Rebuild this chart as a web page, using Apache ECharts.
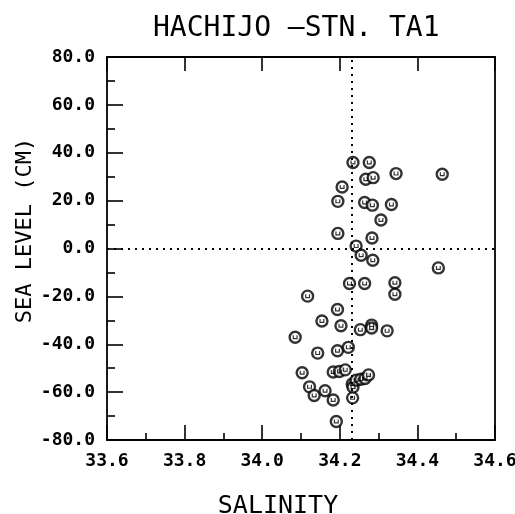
<!DOCTYPE html>
<html>
<head>
<meta charset="utf-8">
<script src="https://cdn.jsdelivr.net/npm/echarts@6/dist/echarts.min.js"></script>
<style>
  html, body { margin: 0; padding: 0; background: #fff; }
  #chart { width: 515px; height: 514px; }
</style>
</head>
<body>
<div id="chart"></div>
<script>
// salinity (x) and sea level anomaly in cm (y)
const salinity = [34.234, 34.276, 34.267, 34.286, 34.345, 34.464, 34.206, 34.195, 34.264, 34.284,
  34.333, 34.306, 34.195, 34.283, 34.242, 34.255, 34.285, 34.454, 34.225, 34.264,
  34.342, 34.342, 34.117, 34.194, 34.154, 34.203, 34.253, 34.282, 34.282, 34.322,
  34.085, 34.143, 34.194, 34.222, 34.103, 34.183, 34.199, 34.214, 34.232, 34.234,
  34.242, 34.254, 34.265, 34.274, 34.122, 34.134, 34.162, 34.183, 34.233, 34.191];
const seaLevel = [35.9, 35.9, 28.9, 29.6, 31.3, 31.0, 25.7, 19.7, 19.2, 18.1,
  18.4, 11.9, 6.3, 4.4, 1.0, -2.8, -4.9, -8.1, -14.6, -14.6,
  -14.3, -19.1, -19.9, -25.5, -30.3, -32.3, -33.9, -32.0, -33.2, -34.4,
  -37.1, -43.7, -42.7, -41.3, -51.9, -51.6, -51.4, -50.7, -56.6, -57.9,
  -55.0, -54.6, -54.3, -52.8, -57.8, -61.4, -59.4, -63.3, -62.4, -72.3];
const meanSalinity = 34.227;
const meanLevel = 0;

const points = salinity.map((s, i) => [s, seaLevel[i]]);

const MONO = '"DejaVu Sans Mono", "Liberation Mono", monospace';
const black = '#000';

const chart = echarts.init(document.getElementById('chart'));
const option = {
  animation: false,
  backgroundColor: '#fff',
  title: {
    text: 'HACHIJO \u2013STN. TA1',
    left: 148,
    top: 10,
    textStyle: { fontFamily: MONO, fontSize: 28, fontWeight: 'normal', color: black }
  },
  grid: { left: 107, right: 20, top: 57, bottom: 74, containLabel: false, outerBoundsMode: 'none' },
  xAxis: [{
    type: 'value',
    position: 'bottom',
    min: 33.6, max: 34.6, interval: 0.2,
    name: 'SALINITY',
    nameLocation: 'middle',
    nameGap: 54,
    nameMoveOverlap: false,
    nameTextStyle: { fontFamily: MONO, fontSize: 25, color: black, padding: [0, 46, 0, 0] },
    axisLine: { onZero: false, lineStyle: { color: black, width: 1.8 } },
    axisTick: { inside: true, length: 15, lineStyle: { color: black, width: 1.6 } },
    minorTick: { show: true, splitNumber: 2, length: 7, lineStyle: { color: black, width: 1.6 } },
    splitLine: { show: false },
    axisLabel: {
      margin: 12, color: black, fontFamily: MONO, fontSize: 18, fontWeight: 'bold',
      formatter: v => v.toFixed(1)
    }
  }, {
    type: 'value',
    position: 'top',
    min: 33.6, max: 34.6, interval: 0.2,
    axisLine: { onZero: false, lineStyle: { color: black, width: 1.8 } },
    axisTick: { inside: true, length: 14, lineStyle: { color: black, width: 1.6 } },
    splitLine: { show: false },
    axisLabel: { show: false }
  }],
  yAxis: [{
    type: 'value',
    position: 'left',
    min: -80, max: 80, interval: 20,
    name: 'SEA LEVEL (CM)',
    nameLocation: 'middle',
    nameGap: 71,
    nameMoveOverlap: false,
    nameTextStyle: { fontFamily: MONO, fontSize: 22, color: black, padding: [0, 0, 0, 36] },
    axisLine: { onZero: false, lineStyle: { color: black, width: 1.8 } },
    axisTick: { inside: true, length: 16, lineStyle: { color: black, width: 1.6 } },
    minorTick: { show: true, splitNumber: 2, length: 8, lineStyle: { color: black, width: 1.6 } },
    splitLine: { show: false },
    axisLabel: {
      margin: 12, color: black, fontFamily: MONO, fontSize: 18, fontWeight: 'bold',
      formatter: v => v.toFixed(1)
    }
  }, {
    type: 'value',
    position: 'right',
    min: -80, max: 80, interval: 20,
    axisLine: { show: true, onZero: false, lineStyle: { color: black, width: 1.8 } },
    axisTick: { show: false },
    splitLine: { show: false },
    axisLabel: { show: false }
  }],
  series: [{
    type: 'scatter',
    data: points,
    symbol: 'circle',
    symbolSize: 11,
    itemStyle: { color: '#fff', borderColor: black, borderWidth: 2.4 },
    markLine: {
      silent: true,
      symbol: 'none',
      label: { show: false },
      lineStyle: { color: black, width: 2, type: [2, 5], cap: 'butt' },
      data: [{ xAxis: meanSalinity }, { yAxis: meanLevel }]
    },
    z: 3
  }, {
    type: 'scatter',
    data: points,
    symbol: 'path://M0,0 L0,4 L5,4 L5,0 L3.8,0 L3.8,2.8 L1.2,2.8 L1.2,0 Z',
    symbolSize: [5, 4],
    itemStyle: { color: black },
    z: 4
  }]
};
chart.setOption(option);
</script>
</body>
</html>
